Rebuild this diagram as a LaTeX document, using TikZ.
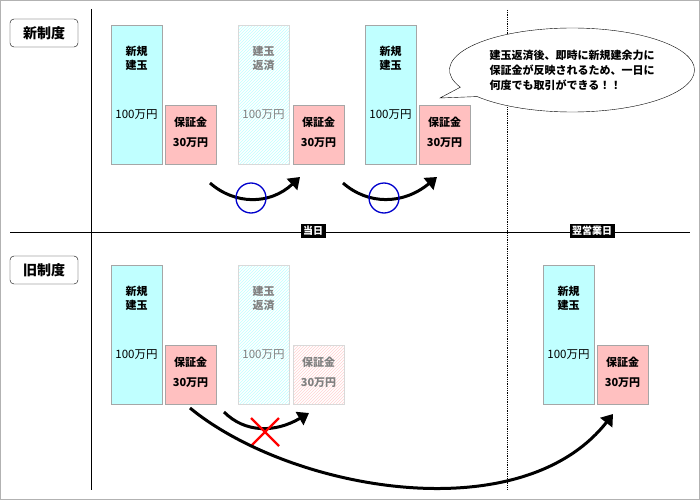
\documentclass[tikz,border=0pt]{standalone}
\usepackage{fontspec}
\setmainfont{Noto Sans CJK JP}
\usetikzlibrary{patterns,arrows.meta,shapes.callouts}
\definecolor{cy}{HTML}{C0FFFF}
\definecolor{pk}{HTML}{FFC0C0}
\tikzset{
 bx/.style={draw=gray!70,line width=0.8pt,anchor=north west,inner sep=0},
 cyanbox/.style={bx,fill=cy,minimum width=51pt,minimum height=139pt},
 pinkbox/.style={bx,fill=pk,minimum width=51pt,minimum height=59pt},
 fadecyan/.style={bx,draw=gray!30,pattern=north east lines,pattern color=cy,minimum width=51pt,minimum height=139pt},
 fadepink/.style={bx,draw=gray!30,pattern=north east lines,pattern color=pk!70,minimum width=51pt,minimum height=59pt},
 txt/.style={font=\fontsize{11}{14}\selectfont\bfseries,align=center,inner sep=0},
 num/.style={font=\fontsize{11.5}{14}\selectfont,align=center,inner sep=0},
 arr/.style={line width=3pt,-{Triangle[length=11pt,width=15pt]}},
 tag/.style={fill=black,text=white,font=\fontsize{10}{11}\selectfont\bfseries,inner sep=2.5pt},
 sec/.style={draw,rounded corners=4pt,minimum width=68pt,minimum height=28pt,font=\fontsize{14}{15}\selectfont\bfseries},
}
\begin{document}
\begin{tikzpicture}[x=1pt,y=-1pt]
\useasboundingbox (0,0) rectangle (700,500);
\draw[gray!60,line width=1pt,fill=white] (0.5,0.5) rectangle (699.5,499.5);
\draw[line width=0.8pt] (91,9) -- (91,490);
\draw[line width=0.8pt] (10,232) -- (690,232);
\draw[densely dotted,line width=0.8pt] (507,10) -- (507,490);
\node[sec] (s1) at (44,33) {新制度};
\node[sec] (s2) at (44,270) {旧制度};
% top row
\node[cyanbox] (a1) at (111,25) {};
\node[pinkbox] (b1) at (165,105) {};
\node[fadecyan] (a2) at (238,25) {};
\node[pinkbox] (b2) at (293,105) {};
\node[cyanbox] (a3) at (365,25) {};
\node[pinkbox] (b3) at (419,105) {};
% bottom row
\node[cyanbox] (c1) at (111,265) {};
\node[pinkbox] (d1) at (165,345) {};
\node[fadecyan] (c2) at (238,265) {};
\node[fadepink] (d2) at (293,345) {};
\node[cyanbox] (c3) at (543,265) {};
\node[pinkbox] (d3) at (597,345) {};
\foreach \n/\x/\y in {t1/136.5/58,t3/390.5/58,u1/136.5/298,u3/568.5/298}{
 \node[txt] (\n a) at (\x,\y) {新規\\建玉};
 \node[num] (\n b) at (\x,\y+57) {100万円};}
\node[txt,text=gray] (t2a) at (263.5,58) {建玉\\返済};
\node[num,text=gray] (t2b) at (263.5,115) {100万円};
\node[txt,text=gray] (u2a) at (263.5,298) {建玉\\返済};
\node[num,text=gray] (u2b) at (263.5,355) {100万円};
\foreach \n/\x/\y/\g in {p1/190.5/122/black,p2/318.5/122/black,p3/444.5/122/black,q1/190.5/362/black,q2/318.5/362/gray,q3/622.5/362/black}{
 \node[txt,text=\g] (\n a) at (\x,\y) {保証金};
 \node[txt,text=\g] (\n b) at (\x,\y+21) {30万円};}
% tags
\node[tag] (g1) at (313,231) {当日};
\node[tag] (g2) at (592,231) {翌営業日};
% callout
\node[ellipse callout,draw,fill=white,minimum width=245pt,minimum height=84pt,callout absolute pointer={(440,98)},
 font=\fontsize{11}{15}\selectfont\bfseries,align=left,inner sep=0] (co) at (572,70) {建玉返済後、即時に新規建余力に\\保証金が反映されるため、一日に\\何度でも取引ができる！！};
% arrows
\coordinate (r1s) at (210,183); \coordinate (r1e) at (300,177);
\draw[arr] (r1s) .. controls (235,205) and (270,205) .. (r1e);
\node[draw=blue!80!black,line width=1.3pt,circle,minimum size=30pt,inner sep=0] (o1) at (251,198) {};
\coordinate (r2s) at (343,183); \coordinate (r2e) at (437,177);
\draw[arr] (r2s) .. controls (368,205) and (403,205) .. (r2e);
\node[draw=blue!80!black,line width=1.3pt,circle,minimum size=30pt,inner sep=0] (o2) at (384,198) {};
\coordinate (r3s) at (224,412); \coordinate (r3e) at (309,413);
\draw[arr] (r3s) .. controls (245,433) and (275,433) .. (r3e);
\node (x1) at (265,432) {};
\draw[red,line width=2.2pt] (251,418) -- (279,446) (279,418) -- (251,446);
\coordinate (r4s) at (190,408); \coordinate (r4e) at (613,414);
\draw[arr] (r4s) .. controls (290,490) and (520,532) .. (r4e);
\end{tikzpicture}
\end{document}
